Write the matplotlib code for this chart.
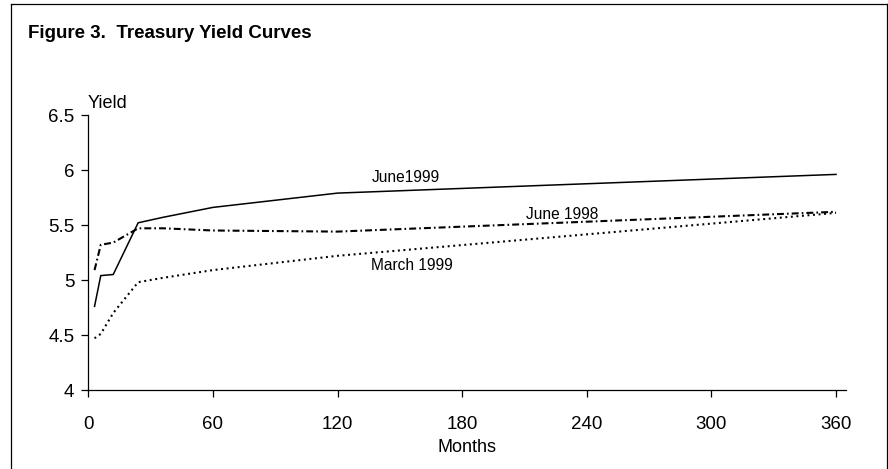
import matplotlib
matplotlib.use("Agg")
import matplotlib.pyplot as plt
from matplotlib.lines import Line2D

plt.rcParams['font.family'] = ['Liberation Sans', 'DejaVu Sans']
plt.rcParams['lines.scale_dashes'] = False

months = [3, 6, 12, 24, 36, 60, 120, 360]
june_1999 = [4.76, 5.04, 5.05, 5.52, 5.57, 5.66, 5.79, 5.96]
june_1998 = [5.09, 5.32, 5.34, 5.47, 5.47, 5.45, 5.44, 5.62]
march_1999 = [4.47, 4.51, 4.70, 4.98, 5.02, 5.09, 5.22, 5.61]

x_ticks = [0, 60, 120, 180, 240, 300, 360]
y_ticks = [4, 4.5, 5, 5.5, 6, 6.5]
y_tick_labels = ["4", "4.5", "5", "5.5", "6", "6.5"]

W, H = 888, 469
fig = plt.figure(figsize=(W / 100, H / 100), dpi=100)

# outer frame (left, top, right)
fx = lambda px: px / W
fy = lambda py: 1 - py / H
for xs, ys in [((11, 11), (4, 470)), ((11, 887), (4, 4)), ((887, 887), (4, 470))]:
    fig.add_artist(Line2D([fx(xs[0]), fx(xs[1])], [fy(ys[0]), fy(ys[1])],
                          color='black', lw=0.9, transform=fig.transFigure))

fig.text(fx(28), fy(33), "Figure 3.  Treasury Yield Curves", fontsize=13.5,
         fontweight='bold', ha='left', va='center')

left, right, bottom, top = 88.3, 845.7, 390, 115
ax = fig.add_axes([fx(left), fy(bottom), (right - left) / W, (bottom - top) / H])
ax.set_xlim(0, (right - left) / 2.077)
ax.set_ylim(4, 6.5)

ax.plot(months, june_1999, color='black', lw=1.1, solid_joinstyle='miter')
ax.plot(months, june_1998, color='black', lw=1.5, linestyle=(0, (5, 2.2, 1.2, 2.2)))
ax.plot(months, march_1999, color='black', lw=1.5, linestyle=(0, (1.4, 2.6)))

ax.text(153, 5.936, "June1999", fontsize=11.2, ha='center', va='center')
ax.text(228, 5.60, "June 1998", fontsize=11.2, ha='center', va='center')
ax.text(156, 5.136, "March 1999", fontsize=11.2, ha='center', va='center')

ax.spines['top'].set_visible(False)
ax.spines['right'].set_visible(False)
for s in ['left', 'bottom']:
    ax.spines[s].set_linewidth(0.9)

ax.set_xticks(x_ticks)
ax.set_xticklabels([str(t) for t in x_ticks])
ax.set_yticks(y_ticks)
ax.set_yticklabels(y_tick_labels)
ax.tick_params(axis='both', direction='out', length=5, width=0.9, labelsize=13.5)
ax.tick_params(axis='x', pad=14)
ax.tick_params(axis='y', pad=5)
ax.set_xlabel("Months", fontsize=13, labelpad=4)
fig.text(fx(88), fy(103), "Yield", fontsize=13, ha='left', va='center')

fig.savefig("out.png", dpi=100)
